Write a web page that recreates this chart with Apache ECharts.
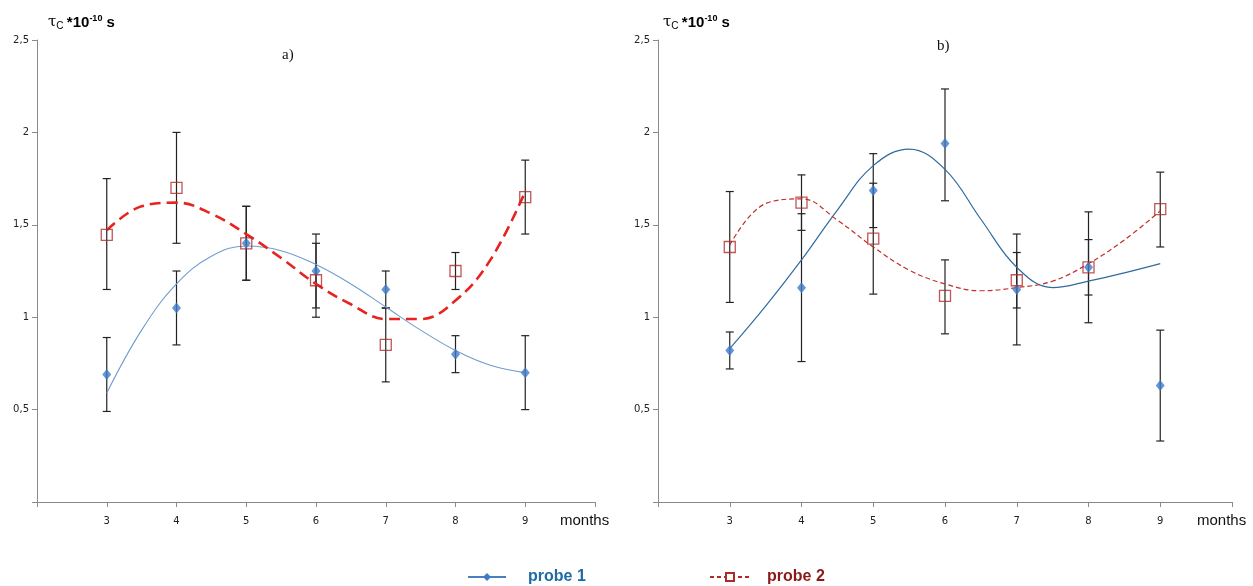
<!DOCTYPE html>
<html>
<head>
<meta charset="utf-8">
<title>tau_c vs months</title>
<script src="https://cdn.jsdelivr.net/npm/echarts@6/dist/echarts.min.js"></script>
<style>
  html, body { margin: 0; padding: 0; background: #fff; }
  #chart { width: 1253px; height: 586px; }
</style>
</head>
<body>
<div id="chart"></div>
<script>
// months on the x axis
const months = [3, 4, 5, 6, 7, 8, 9];

// panel a) measured points and error bar ends
const aProbe1 = [0.69, 1.05, 1.40, 1.25, 1.15, 0.80, 0.70];
const aProbe1Low = [0.49, 0.85, 1.20, 1.05, 1.05, 0.70, 0.50];
const aProbe1High = [0.89, 1.25, 1.60, 1.40, 1.25, 0.90, 0.90];
const aProbe2 = [1.445, 1.70, 1.40, 1.20, 0.85, 1.25, 1.65];
const aProbe2Low = [1.15, 1.40, 1.20, 1.00, 0.65, 1.15, 1.45];
const aProbe2High = [1.75, 2.00, 1.60, 1.45, 1.05, 1.35, 1.85];

// panel b)
const bProbe1 = [0.82, 1.16, 1.685, 1.94, 1.15, 1.27, 0.63];
const bProbe1Low = [0.72, 0.76, 1.485, 1.63, 0.85, 0.97, 0.33];
const bProbe1High = [0.92, 1.56, 1.885, 2.235, 1.45, 1.57, 0.93];
const bProbe2 = [1.38, 1.62, 1.425, 1.115, 1.20, 1.27, 1.585];
const bProbe2Low = [1.08, 1.47, 1.125, 0.91, 1.05, 1.12, 1.38];
const bProbe2High = [1.68, 1.77, 1.725, 1.31, 1.35, 1.42, 1.785];

// trend curves, every half month
const trendX = [3, 3.5, 4, 4.5, 5, 5.5, 6, 6.5, 7, 7.5, 8, 8.5, 9];
const aTrend1 = [0.59, 0.93, 1.18, 1.33, 1.385, 1.36, 1.285, 1.18, 1.055, 0.93, 0.82, 0.74, 0.70];
const aTrend2 = [1.47, 1.60, 1.62, 1.56, 1.45, 1.32, 1.18, 1.07, 0.99, 0.99, 1.09, 1.31, 1.68];
const bTrend1 = [0.83, 1.06, 1.31, 1.58, 1.82, 1.91, 1.80, 1.53, 1.27, 1.16, 1.195, 1.24, 1.29];
const bTrend2 = [1.39, 1.615, 1.64, 1.525, 1.38, 1.255, 1.18, 1.143, 1.16, 1.195, 1.29, 1.418, 1.575];

const yTicks = [0, 0.5, 1, 1.5, 2, 2.5];

const blue = "#3d7cc9";
const red = "#b02a2a";

const pts = (ys) => months.map((m, i) => [m, ys[i]]);
const bars = (lo, hi) => months.map((m, i) => [m, lo[i], hi[i]]);
const curve = (ys) => trendX.map((x, i) => [x, ys[i]]);

function errorBars(idx, lo, hi) {
  return {
    type: "custom",
    xAxisIndex: idx,
    yAxisIndex: idx,
    silent: true,
    z: 3,
    data: bars(lo, hi),
    renderItem(params, api) {
      const a = api.coord([api.value(0), api.value(1)]);
      const b = api.coord([api.value(0), api.value(2)]);
      const w = 4;
      const st = { stroke: "#222", lineWidth: 1.2 };
      return {
        type: "group",
        children: [
          { type: "line", shape: { x1: a[0], y1: a[1], x2: b[0], y2: b[1] }, style: st },
          { type: "line", shape: { x1: a[0] - w, y1: a[1], x2: a[0] + w, y2: a[1] }, style: st },
          { type: "line", shape: { x1: b[0] - w, y1: b[1], x2: b[0] + w, y2: b[1] }, style: st },
        ],
      };
    },
  };
}

function axisPair(idx) {
  const x = {
    type: "value",
    gridIndex: idx,
    min: 2,
    max: 10,
    interval: 1,
    splitLine: { show: false },
    axisLine: { lineStyle: { color: "#8a8a8a" } },
    axisTick: { inside: false, length: 5, lineStyle: { color: "#8a8a8a" } },
    axisLabel: {
      color: "#222",
      fontSize: 10,
      margin: 14,
      fontFamily: "DejaVu Sans",
      formatter: (v) => (months.includes(v) ? String(v) : ""),
    },
  };
  const y = {
    type: "value",
    gridIndex: idx,
    min: yTicks[0],
    max: yTicks[yTicks.length - 1],
    interval: 0.5,
    splitLine: { show: false },
    axisLine: { show: true, lineStyle: { color: "#8a8a8a" } },
    axisTick: { show: true, length: 5, lineStyle: { color: "#8a8a8a" } },
    axisLabel: {
      color: "#222",
      fontSize: 10,
      margin: 8,
      fontFamily: "DejaVu Sans",
      formatter: (v) => (v === 0 ? "" : String(v).replace(".", ",")),
    },
  };
  return [x, y];
}

const [xa, ya] = axisPair(0);
const [xb, yb] = axisPair(1);

const titleRich = {
  t: { fontSize: 15, fontFamily: "DejaVu Serif", color: "#111" },
  c: { fontSize: 10, fontFamily: "Liberation Sans", color: "#111", padding: [8, 0, 0, 0] },
  m: { fontSize: 15, fontFamily: "Liberation Sans", fontWeight: "bold", color: "#111" },
  e: { fontSize: 9, fontFamily: "Liberation Sans", fontWeight: "bold", color: "#111", padding: [0, 0, 8, 0] },
};
const titleText = "{t|τ}{c|C} {m|*10}{e|-10}{m| s}";

const chart = echarts.init(document.getElementById("chart"));
chart.setOption({
  animation: false,
  backgroundColor: "#fff",
  grid: [
    { left: 37, top: 40, width: 558, height: 462 },
    { left: 658, top: 40, width: 574, height: 462 },
  ],
  xAxis: [xa, xb],
  yAxis: [ya, yb],
  legend: [
    {
      left: 462,
      top: 564,
      itemWidth: 38,
      itemHeight: 10,
      data: [{ name: "probe 1" }],
      textStyle: { color: "#1e6aa6", fontSize: 16, fontWeight: "bold", fontFamily: "Liberation Sans", padding: [0, 0, 0, 17] },
    },
    {
      left: 704,
      top: 564,
      itemWidth: 40,
      itemHeight: 10,
      data: [{ name: "probe 2" }],
      textStyle: { color: "#8a1a1a", fontSize: 16, fontWeight: "bold", fontFamily: "Liberation Sans", padding: [0, 0, 0, 12] },
    },
  ],
  graphic: [
    { type: "text", left: 48, top: 14, style: { text: titleText, rich: titleRich } },
    { type: "text", left: 663, top: 14, style: { text: titleText, rich: titleRich } },
    { type: "text", left: 282, top: 48, style: { text: "a)", fontSize: 15, fontFamily: "Liberation Serif", fill: "#111" } },
    { type: "text", left: 937, top: 39, style: { text: "b)", fontSize: 15, fontFamily: "Liberation Serif", fill: "#111" } },
    { type: "text", left: 560, top: 513, style: { text: "months", fontSize: 15, fontFamily: "Liberation Sans", fill: "#111" } },
    { type: "text", left: 1197, top: 513, style: { text: "months", fontSize: 15, fontFamily: "Liberation Sans", fill: "#111" } },
  ],
  series: [
    // legend-only entries
    {
      name: "probe 1", type: "line", data: [],
      symbol: "diamond", symbolSize: 7,
      itemStyle: { color: blue },
      lineStyle: { color: "#4a7fbf", width: 1.2 },
    },
    {
      name: "probe 2", type: "line", data: [],
      symbol: "rect", symbolSize: 8,
      itemStyle: { color: "#fff", borderColor: red, borderWidth: 1.2 },
      lineStyle: { color: red, width: 1.2, type: [4, 3] },
    },

    // panel a
    errorBars(0, aProbe1Low, aProbe1High),
    errorBars(0, aProbe2Low, aProbe2High),
    {
      type: "line", xAxisIndex: 0, yAxisIndex: 0, data: curve(aTrend1),
      smooth: 0.4, showSymbol: false, silent: true, z: 4,
      lineStyle: { color: "#6f9ccf", width: 1.1 },
    },
    {
      type: "line", xAxisIndex: 0, yAxisIndex: 0, data: curve(aTrend2),
      smooth: 0.4, showSymbol: false, silent: true, z: 4,
      lineStyle: { color: "#e8221e", width: 2.6, type: [11, 6] },
    },
    {
      type: "scatter", xAxisIndex: 0, yAxisIndex: 0, data: pts(aProbe1),
      symbol: "diamond", symbolSize: [9, 11], z: 5,
      itemStyle: { color: blue },
    },
    {
      type: "scatter", xAxisIndex: 0, yAxisIndex: 0, data: pts(aProbe2),
      symbol: "rect", symbolSize: 11, z: 6,
      itemStyle: { color: "rgba(255,255,255,0)", borderColor: red, borderWidth: 1.3 },
    },

    // panel b
    errorBars(1, bProbe1Low, bProbe1High),
    errorBars(1, bProbe2Low, bProbe2High),
    {
      type: "line", xAxisIndex: 1, yAxisIndex: 1, data: curve(bTrend1),
      smooth: 0.4, showSymbol: false, silent: true, z: 4,
      lineStyle: { color: "#2f6b9e", width: 1.2 },
    },
    {
      type: "line", xAxisIndex: 1, yAxisIndex: 1, data: curve(bTrend2),
      smooth: 0.4, showSymbol: false, silent: true, z: 4,
      lineStyle: { color: "#c0302c", width: 1.2, type: [5, 3] },
    },
    {
      type: "scatter", xAxisIndex: 1, yAxisIndex: 1, data: pts(bProbe1),
      symbol: "diamond", symbolSize: [9, 11], z: 5,
      itemStyle: { color: blue },
    },
    {
      type: "scatter", xAxisIndex: 1, yAxisIndex: 1, data: pts(bProbe2),
      symbol: "rect", symbolSize: 11, z: 6,
      itemStyle: { color: "rgba(255,255,255,0)", borderColor: red, borderWidth: 1.3 },
    },
  ],
});
</script>
</body>
</html>
